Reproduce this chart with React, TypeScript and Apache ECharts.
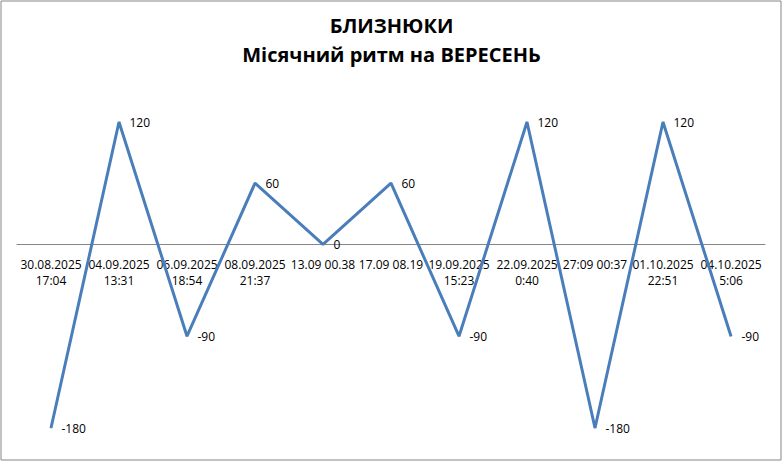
import React, { useEffect, useRef } from 'react';
import * as echarts from 'echarts';

const categories = [
  '30.08.2025\n17:04',
  '04.09.2025\n13:31',
  '06.09.2025\n18:54',
  '08.09.2025\n21:37',
  '13.09 00.38',
  '17.09 08.19',
  '19.09.2025\n15:23',
  '22.09.2025\n0:40',
  '27:09 00:37',
  '01.10.2025\n22:51',
  '04.10.2025\n5:06',
];

const rhythm = [-180, 120, -90, 60, 0, 60, -90, 120, -180, 120, -90];

const Y_MIN = -180;
const Y_MAX = 120;

const font = '"Open Sans", "Noto Sans", sans-serif';

const W = 783;
const H = 463;
const GRID_TOP = 122;
const GRID_BOTTOM = 35;

export default function App() {
  const chartRef = useRef<HTMLDivElement>(null);

  useEffect(() => {
    const chart = echarts.init(chartRef.current, null, { renderer: 'svg' });

    // echarts 6 keeps the labels at the grid edge with onZero, so lift the whole axis to 0
    const plotH = H - GRID_TOP - GRID_BOTTOM;
    const zeroOffset = -plotH * (0 - Y_MIN) / (Y_MAX - Y_MIN);

    chart.setOption({
      animation: false,
      backgroundColor: '#fff',
      title: {
        text: 'БЛИЗНЮКИ\nМісячний ритм на ВЕРЕСЕНЬ',
        left: 'center',
        top: 6,
        textStyle: {
          fontFamily: font,
          fontSize: 20,
          fontWeight: 'bold',
          color: '#000',
          lineHeight: 29,
        },
      },
      grid: { left: 17, right: 18, top: GRID_TOP, bottom: GRID_BOTTOM, outerBoundsMode: 'none' },
      xAxis: {
        type: 'category',
        data: categories,
        boundaryGap: true,
        offset: zeroOffset,
        axisLine: { onZero: false, lineStyle: { color: '#868686', width: 1 } },
        axisTick: { show: false },
        axisLabel: {
          interval: 0,
          margin: 12,
          fontFamily: font,
          fontSize: 12,
          lineHeight: 16,
          color: '#000',
        },
      },
      yAxis: {
        type: 'value',
        min: Y_MIN,
        max: Y_MAX,
        show: false,
        splitLine: { show: false },
      },
      series: [
        {
          type: 'line',
          data: rhythm,
          symbol: 'circle',
          symbolSize: 1,
          itemStyle: { color: '#4a7ebb' },
          lineStyle: { color: '#4a7ebb', width: 3 },
          label: {
            show: true,
            position: 'right',
            distance: 10,
            fontFamily: font,
            fontSize: 12,
            color: '#000',
          },
        },
      ],
      graphic: [
        {
          type: 'rect',
          shape: { x: 1, y: 1, width: 780, height: 459 },
          style: { fill: 'none', stroke: '#868686', lineWidth: 1 },
          silent: true,
        },
      ],
    });

    return () => {
      chart.dispose();
    };
  }, []);

  return (
    <div
      ref={chartRef}
      style={{ position: 'absolute', left: 0, top: 0, width: W, height: H }}
    />
  );
}
